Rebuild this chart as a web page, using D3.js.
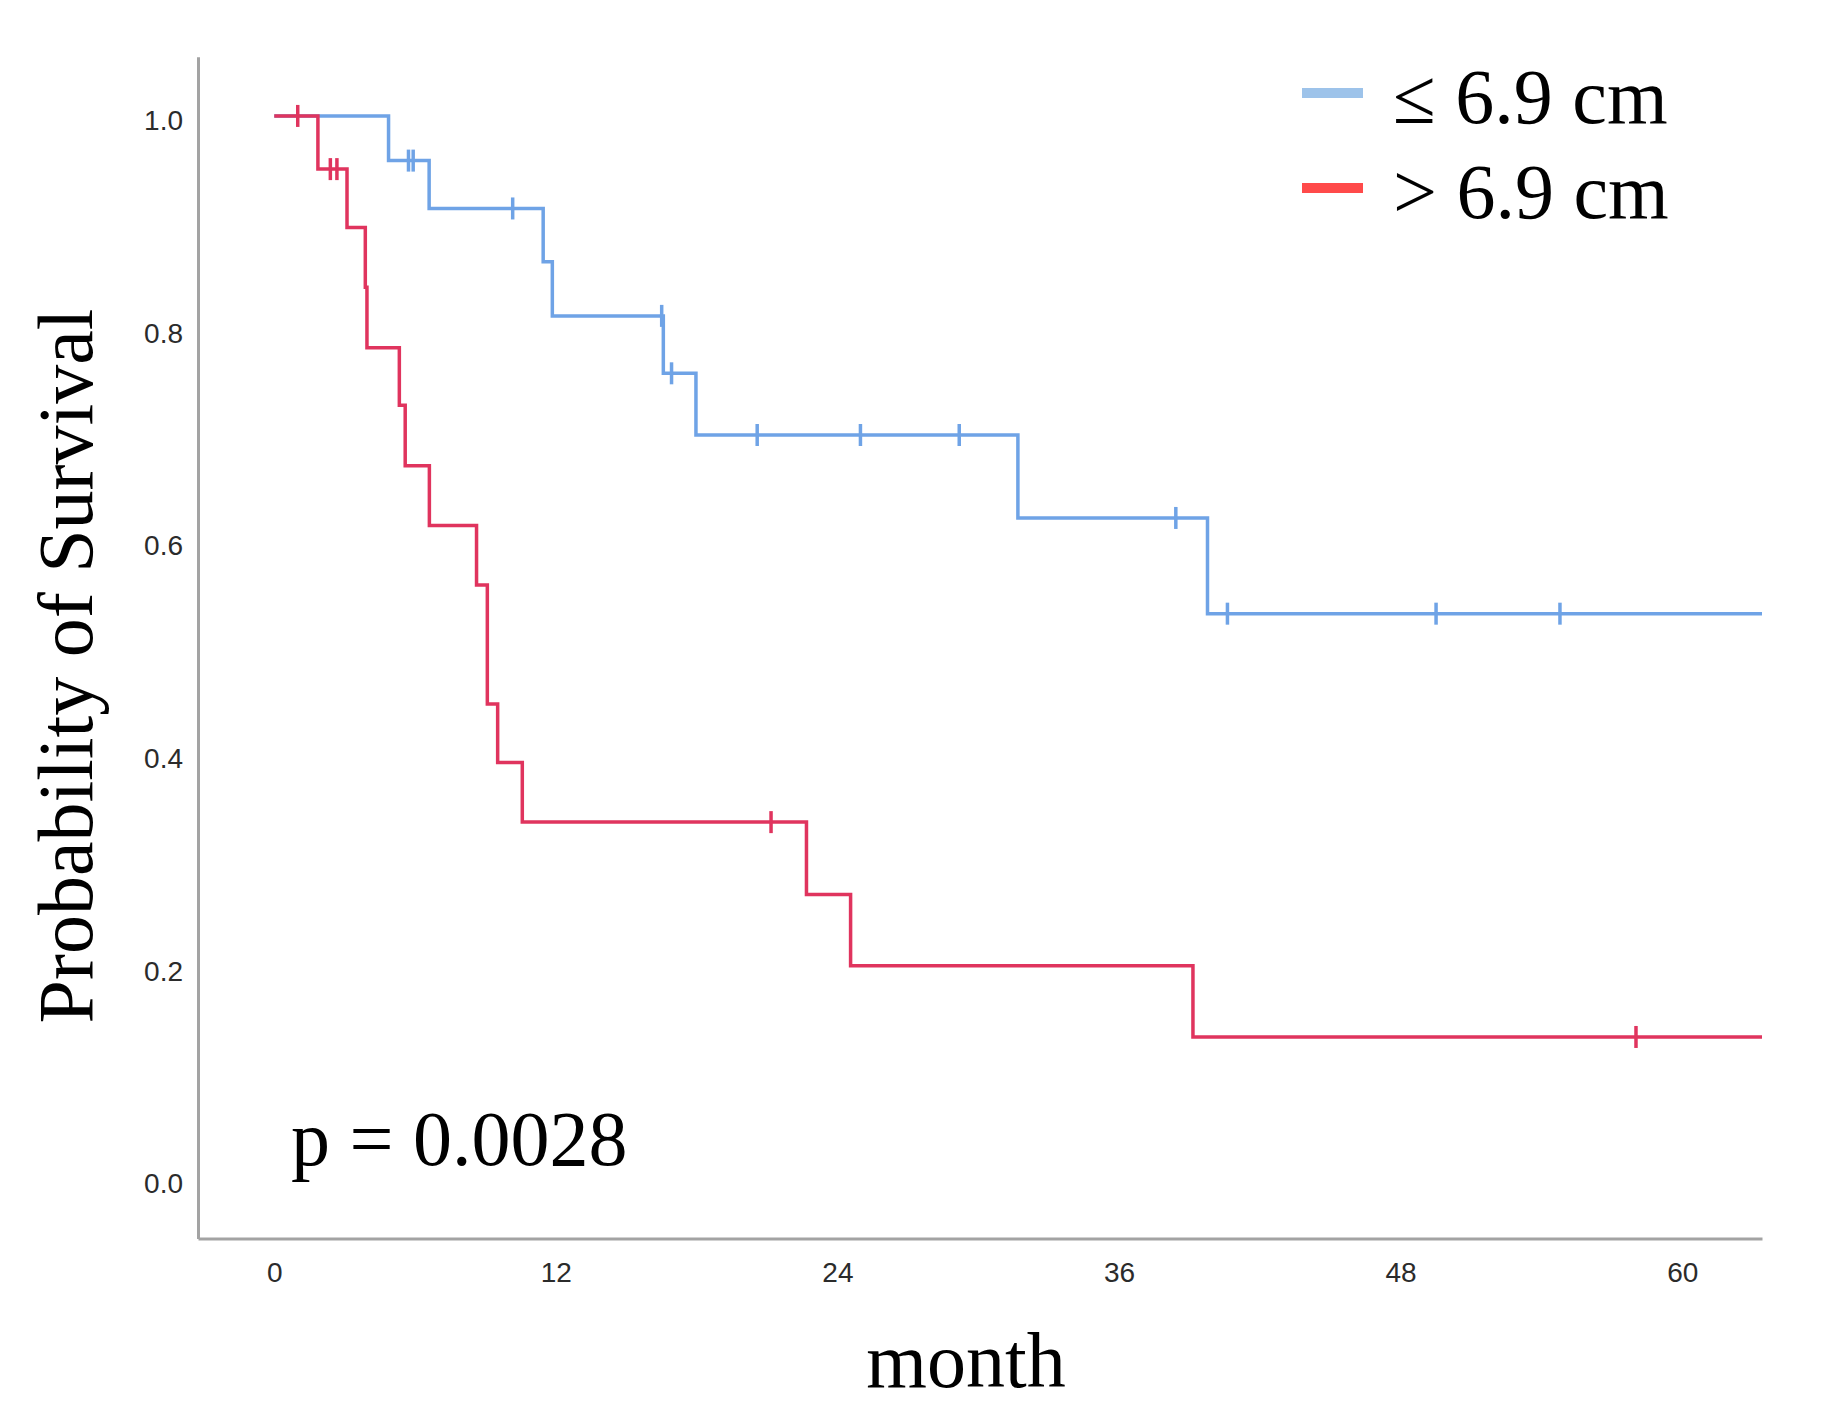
<!DOCTYPE html>
<html>
<head>
<meta charset="utf-8">
<script src="https://cdn.jsdelivr.net/npm/d3@7"></script>
<style>
  body { margin: 0; background: #fff; }
</style>
</head>
<body>
<script>
// Kaplan-Meier steps (months, survival)
var blueTimes = [0, 4.87, 6.6, 11.46, 11.85, 16.58, 17.97, 31.69, 39.77];
var blueSurv = [1.0, 0.958, 0.913, 0.863, 0.812, 0.758, 0.70, 0.622, 0.532];
var blueCensor = [5.72, 5.92, 10.16, 16.51, 16.93, 20.58, 24.98, 29.19, 38.42, 40.62, 49.51, 54.79];

var redTimes = [0, 1.86, 3.1, 3.88, 3.95, 5.33, 5.58, 6.61, 8.62, 9.08, 9.52, 10.57, 22.68, 24.56, 39.15];
var redSurv = [1.0, 0.950, 0.895, 0.839, 0.782, 0.728, 0.671, 0.615, 0.559, 0.447, 0.392, 0.336, 0.268, 0.201, 0.134];
var redCensor = [1.0, 2.39, 2.67, 21.17, 58.03];

var endTime = 63.4;
var xTicks = [0, 12, 24, 36, 48, 60];
var yTicks = [0.0, 0.2, 0.4, 0.6, 0.8, 1.0];
var legendLabels = ["\u2264 6.9 cm", "> 6.9 cm"];
var pText = "p = 0.0028";

var width = 1842, height = 1423;

var x = d3.scaleLinear().domain([-3.25, endTime]).range([198, 1762]);
var y = d3.scaleLinear().domain([-0.0555, 1.0556]).range([1238.5, 56.8]);

var svg = d3.select("body").append("svg")
  .attr("width", width)
  .attr("height", height);

var xAxis = d3.axisBottom(x)
  .tickValues(xTicks)
  .tickSizeInner(0)
  .tickSizeOuter(0)
  .tickPadding(24)
  .tickFormat(d3.format("d"));

var yAxis = d3.axisLeft(y)
  .tickValues(yTicks)
  .tickSizeInner(0)
  .tickSizeOuter(0)
  .tickPadding(15)
  .tickFormat(d3.format(".1f"));

var gx = svg.append("g")
  .attr("transform", "translate(0," + y.range()[0] + ")")
  .call(xAxis);

var gy = svg.append("g")
  .attr("transform", "translate(" + x.range()[0] + ",0)")
  .call(yAxis);

gy.selectAll("text").attr("dy", "0.48em");

[gx, gy].forEach(function (g) {
  g.select(".domain").attr("stroke", "#a3a3a3").attr("stroke-width", 3);
  g.selectAll("text")
    .style("font-family", "'Liberation Sans', Arial, sans-serif")
    .style("font-size", "28px")
    .attr("fill", "#2b2b2b");
});

function survAt(times, surv, t) {
  var s = surv[0];
  for (var i = 0; i < times.length; i++) {
    if (times[i] <= t) s = surv[i];
  }
  return s;
}

function stepPoints(times, surv) {
  var pts = times.map(function (t, i) { return [t, surv[i]]; });
  pts.push([endTime, surv[surv.length - 1]]);
  return pts;
}

var line = d3.line()
  .curve(d3.curveStepAfter)
  .x(function (d) { return x(d[0]); })
  .y(function (d) { return y(d[1]); });

var series = [
  { times: blueTimes, surv: blueSurv, censor: blueCensor, color: "#6fa3e6" },
  { times: redTimes, surv: redSurv, censor: redCensor, color: "#e0345e" }
];

series.forEach(function (s) {
  svg.append("path")
    .datum(stepPoints(s.times, s.surv))
    .attr("fill", "none")
    .attr("stroke", s.color)
    .attr("stroke-width", 3.5)
    .attr("d", line);

  svg.selectAll(null)
    .data(s.censor)
    .enter().append("line")
    .attr("x1", function (d) { return x(d); })
    .attr("x2", function (d) { return x(d); })
    .attr("y1", function (d) { return y(survAt(s.times, s.surv, d)) - 11; })
    .attr("y2", function (d) { return y(survAt(s.times, s.surv, d)) + 11; })
    .attr("stroke", s.color)
    .attr("stroke-width", 3.5);
});

// axis titles
svg.append("text")
  .attr("transform", "translate(92,666) rotate(-90)")
  .attr("text-anchor", "middle")
  .style("font-family", "'Liberation Serif', 'Times New Roman', serif")
  .style("font-size", "78px")
  .text("Probability of Survival");

svg.append("text")
  .attr("x", 966)
  .attr("y", 1387)
  .attr("text-anchor", "middle")
  .style("font-family", "'Liberation Serif', 'Times New Roman', serif")
  .style("font-size", "78px")
  .text("month");

svg.append("text")
  .attr("x", 291)
  .attr("y", 1165)
  .style("font-family", "'Liberation Serif', 'Times New Roman', serif")
  .style("font-size", "78px")
  .text(pText);

// legend
var legendColors = ["#9dc3ea", "#ff4a4a"];
var legend = svg.selectAll(".legend")
  .data(legendLabels)
  .enter().append("g")
  .attr("class", "legend")
  .attr("transform", function (d, i) { return "translate(0," + (i * 95) + ")"; });

legend.append("line")
  .attr("x1", 1302)
  .attr("x2", 1363)
  .attr("y1", 93)
  .attr("y2", 93)
  .attr("stroke", function (d, i) { return legendColors[i]; })
  .attr("stroke-width", 10);

legend.append("text")
  .attr("x", 1393)
  .attr("y", 122.5)
  .style("font-family", "'Liberation Serif', 'Times New Roman', serif")
  .style("font-size", "78px")
  .text(function (d) { return d; });
</script>
</body>
</html>
